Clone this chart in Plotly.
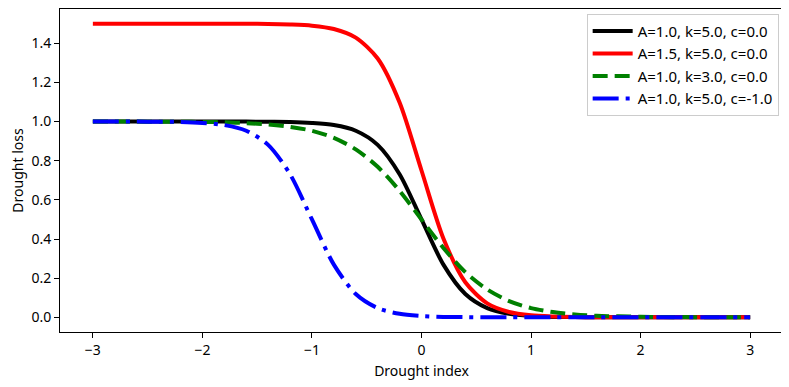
import plotly.graph_objects as go

# Drought index grid (values at 0.2 steps)
drought_index = [-3.0, -2.8, -2.6, -2.4, -2.2, -2.0, -1.8, -1.6, -1.4, -1.2, -1.0,
                 -0.8, -0.6, -0.4, -0.2, 0.0, 0.2, 0.4, 0.6, 0.8, 1.0,
                 1.2, 1.4, 1.6, 1.8, 2.0, 2.2, 2.4, 2.6, 2.8, 3.0]

loss_a1_k5_c0 = [1.000, 1.000, 1.000, 1.000, 1.000, 1.000, 1.000, 1.000, 0.999, 0.998, 0.993,
                 0.982, 0.953, 0.881, 0.731, 0.500, 0.269, 0.119, 0.047, 0.018, 0.007,
                 0.002, 0.001, 0.000, 0.000, 0.000, 0.000, 0.000, 0.000, 0.000, 0.000]

loss_a15_k5_c0 = [1.500, 1.500, 1.500, 1.500, 1.500, 1.500, 1.500, 1.500, 1.499, 1.496, 1.490,
                  1.473, 1.429, 1.322, 1.097, 0.750, 0.403, 0.179, 0.071, 0.027, 0.010,
                  0.004, 0.001, 0.000, 0.000, 0.000, 0.000, 0.000, 0.000, 0.000, 0.000]

loss_a1_k3_c0 = [1.000, 1.000, 1.000, 0.999, 0.999, 0.998, 0.996, 0.992, 0.985, 0.973, 0.953,
                 0.917, 0.858, 0.769, 0.646, 0.500, 0.354, 0.231, 0.142, 0.083, 0.047,
                 0.027, 0.015, 0.008, 0.005, 0.003, 0.001, 0.001, 0.000, 0.000, 0.000]

loss_a1_k5_cm1 = [1.000, 1.000, 1.000, 0.999, 0.998, 0.993, 0.982, 0.953, 0.881, 0.731, 0.500,
                  0.269, 0.119, 0.047, 0.018, 0.007, 0.002, 0.001, 0.000, 0.000, 0.000,
                  0.000, 0.000, 0.000, 0.000, 0.000, 0.000, 0.000, 0.000, 0.000, 0.000]

series = [
    ("A=1.0, k=5.0, c=0.0", loss_a1_k5_c0, "black", "solid"),
    ("A=1.5, k=5.0, c=0.0", loss_a15_k5_c0, "red", "solid"),
    ("A=1.0, k=3.0, c=0.0", loss_a1_k3_c0, "green", "15px,7px"),
    ("A=1.0, k=5.0, c=-1.0", loss_a1_k5_cm1, "blue", "26px,7px,4px,7px"),
]

fig = go.Figure()
for name, vals, color, dash in series:
    fig.add_trace(
        go.Scatter(
            x=drought_index,
            y=vals,
            mode="lines",
            name=name,
            line=dict(color=color, width=4, dash=dash, shape="spline", smoothing=0.8),
        )
    )

axis_style = dict(
    showline=True,
    linecolor="black",
    linewidth=1,
    mirror=True,
    ticks="outside",
    ticklen=5,
    tickcolor="black",
    showgrid=False,
    zeroline=False,
    automargin=False,
    tickfont=dict(size=14),
)

# the page body has an 8px margin, so the figure is sized 8px smaller
fig.update_layout(
    width=781,
    height=379,
    margin=dict(l=52, r=6, t=1, b=55),
    plot_bgcolor="white",
    paper_bgcolor="white",
    font=dict(family="Noto Sans", size=14, color="black"),
    xaxis=dict(
        title=dict(text="Drought index", standoff=8, font=dict(size=14)),
        range=[-3.3, 3.3],
        tickvals=[-3, -2, -1, 0, 1, 2, 3],
        **axis_style,
    ),
    yaxis=dict(
        title=dict(text="Drought loss", standoff=8, font=dict(size=14)),
        range=[-0.075, 1.575],
        tickvals=[0, 0.2, 0.4, 0.6, 0.8, 1.0, 1.2, 1.4],
        tickformat=".1f",
        **axis_style,
    ),
    legend=dict(
        x=0.994,
        y=0.985,
        xanchor="right",
        yanchor="top",
        bordercolor="#cccccc",
        borderwidth=1,
        bgcolor="rgba(255,255,255,0.8)",
        font=dict(size=15),
        tracegroupgap=0,
        itemwidth=40,
    ),
)

fig.write_html("out.html")
